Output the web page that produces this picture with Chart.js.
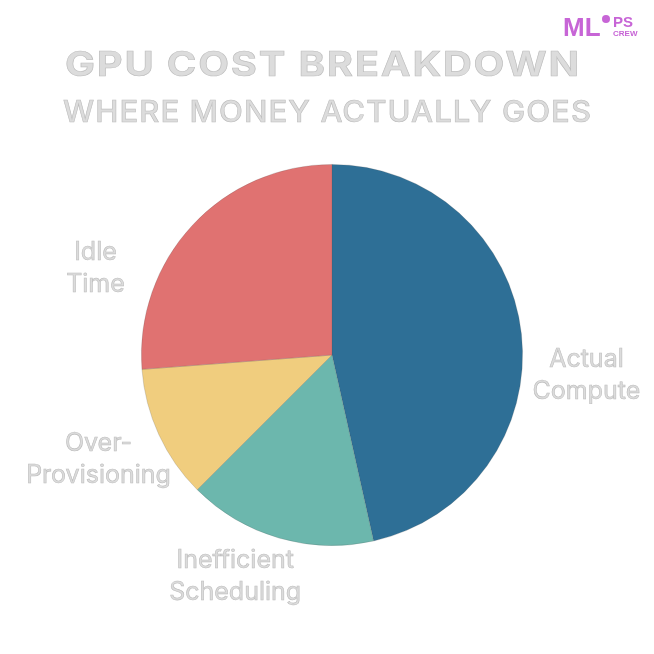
<!DOCTYPE html>
<html>
<head>
<meta charset="utf-8">
<script src="https://cdn.jsdelivr.net/npm/chart.js@4"></script>
<style>
  html, body { margin: 0; padding: 0; background: #ffffff; }
  #wrap { width: 654px; height: 654px; position: relative; }
</style>
</head>
<body>
<div id="wrap"><canvas id="c" width="654" height="654"></canvas></div>
<script>
// ---- data ----
const categories = ["Actual Compute", "Inefficient Scheduling", "Over-Provisioning", "Idle Time"];
const labelLines = [["Actual", "Compute"], ["Inefficient", "Scheduling"], ["Over-", "Provisioning"], ["Idle", "Time"]];
const shares = [46.5, 16, 11.3, 26.2];
const sliceColors = ["#2e6f96", "#6cb7ad", "#f0cd7e", "#e07271"];
const titleText = "GPU COST BREAKDOWN";
const subtitleText = "WHERE MONEY ACTUALLY GOES";

// label offsets, as fractions of the pie radius from its centre
const labelOffsetX = [1.335, -0.508, -1.225, -1.241];
const labelOffsetY = [0.100, 1.152, 0.542, -0.461];

const textFill = "#dcdcdc";
const textStroke = "#bdbdbd";

function outlinedText(ctx, txt, x, y, font, targetW, spacing) {
  ctx.save();
  ctx.font = font;
  ctx.textBaseline = "alphabetic";
  ctx.textAlign = "left";
  if (spacing) ctx.letterSpacing = spacing + "px";
  let w = ctx.measureText(txt).width - (spacing || 0);
  let sx = 1;
  if (targetW) { sx = targetW / w; }
  ctx.translate(x - (w * sx) / 2, y);
  ctx.scale(sx, 1);
  ctx.fillStyle = textFill;
  ctx.fillText(txt, 0, 0);
  ctx.lineWidth = 0.6;
  ctx.strokeStyle = textStroke;
  ctx.strokeText(txt, 0, 0);
  ctx.restore();
}

const decor = {
  id: "decor",
  afterDraw(chart) {
    const ctx = chart.ctx;
    // titles
    outlinedText(ctx, titleText, 322, 76, "bold 34px Inter", 514, 1.5);
    outlinedText(ctx, subtitleText, 327, 122, "500 30px Inter", 528, 1);

    // slice labels
    const meta = chart.getDatasetMeta(0);
    meta.data.forEach((arc, i) => {
      const r = arc.outerRadius;
      const cx = arc.x + labelOffsetX[i] * r;
      const cy = arc.y + labelOffsetY[i] * r;
      const lh = 32;
      const lines = labelLines[i];
      lines.forEach((ln, k) => {
        const y = cy + (k - (lines.length - 1) / 2) * lh + 9;
        outlinedText(ctx, ln, cx, y, "25px Inter");
      });
    });

    // logo
    ctx.save();
    ctx.fillStyle = "#c765d6";
    ctx.font = "bold 26px 'Liberation Sans'";
    ctx.textAlign = "left";
    ctx.textBaseline = "alphabetic";
    ctx.fillText("ML", 563, 36);
    ctx.beginPath();
    ctx.arc(606, 19, 4, 0, Math.PI * 2);
    ctx.fill();
    ctx.font = "bold 15px 'Liberation Sans'";
    ctx.fillText("PS", 613, 27);
    ctx.font = "bold 8px 'Liberation Sans'";
    ctx.fillText("CREW", 613, 36);
    ctx.restore();
  }
};

new Chart(document.getElementById("c"), {
  type: "pie",
  data: {
    labels: categories,
    datasets: [{
      data: shares,
      backgroundColor: sliceColors,
      borderColor: "rgba(80,80,80,0.25)",
      borderWidth: 0.8
    }]
  },
  options: {
    responsive: false,
    animation: false,
    rotation: 0,
    layout: { padding: { top: 164, bottom: 108, left: 141, right: 131 } },
    plugins: {
      legend: { display: false },
      tooltip: { enabled: false },
      title: { display: false }
    }
  },
  plugins: [decor]
});
</script>
</body>
</html>
